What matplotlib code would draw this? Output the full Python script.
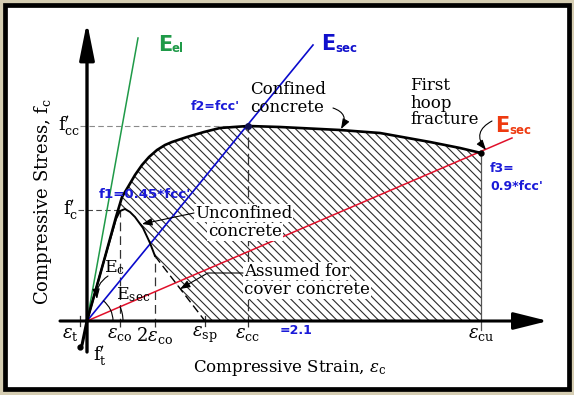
import matplotlib
matplotlib.use('Agg')
import matplotlib.pyplot as plt
from matplotlib.patches import Polygon, Rectangle, Arc
import matplotlib.transforms as mtransforms

plt.rcParams['mathtext.fontset'] = 'dejavuserif'
plt.rcParams['hatch.linewidth'] = 0.8

# ---------------- data (diagram units: strain -> right, stress -> up) ----------
conf_strain = [0, 18, 29, 35, 41, 48, 55, 62, 70, 78, 85, 100, 117, 133, 161, 193, 253, 293, 343, 373, 394]
conf_stress = [0, 64, 104, 124, 134, 146, 156, 164, 171, 176, 179, 184, 189, 193, 195, 194, 191, 188, 179, 173, 168]
unconf_strain = [0, 18, 25, 29, 33, 38, 43, 48, 56, 63, 68]
unconf_stress = [0, 64, 88, 102, 110, 112, 109, 104, 93, 78, 65]
cover_strain = [68, 118]
cover_stress = [65, 0]
tension_strain = [0, -5, -7]
tension_stress = [0, -24, -26]

eps_t, eps_co, eps_2co, eps_sp, eps_cc, eps_cu = -7, 33, 68, 118, 161, 394
f_cc, f_c, f_3 = 195, 111, 168

E_el_end = (51, 283)
E_sec_blue_end = (226, 276)
E_sec_red_end = (425, 183)

x_labels = ['$\\varepsilon_{\\mathrm{co}}$', '$2\\varepsilon_{\\mathrm{co}}$',
            '$\\varepsilon_{\\mathrm{sp}}$', '$\\varepsilon_{\\mathrm{cc}}$',
            '$\\varepsilon_{\\mathrm{cu}}$']
x_label_pos = [eps_co, eps_2co, eps_sp, eps_cc, eps_cu]

# ---------------- figure ----------------
W, H = 574, 395
fig = plt.figure(figsize=(W / 100, H / 100), dpi=100)
fig.patch.set_facecolor('#d5cdb2')
ax = fig.add_axes([0, 0, 1, 1])
ax.set_xlim(-87, 487)
ax.set_ylim(-74, 321)
ax.axis('off')
ax.patch.set_visible(False)

PX = mtransforms.Affine2D().scale(1 / W, -1 / H).translate(0, 1) + fig.transFigure

# frame
ax.add_patch(Rectangle((4.5, 5), 564, 383.5, transform=PX, fc='white', ec='black',
                       lw=3.4, zorder=0))

SERIF = 'DejaVu Serif'
BLUE_T = '#1a1ad8'

# hatch region (confined minus unconfined)
poly = list(zip(conf_strain[2:], conf_stress[2:]))
poly += [(eps_cu, 0), (cover_strain[1], 0)]
poly += list(zip(unconf_strain[::-1][:8], unconf_stress[::-1][:8]))
ax.add_patch(Polygon(poly, closed=True, fill=False, hatch='\\\\\\\\', edgecolor='#2a2a2a',
                     lw=0, zorder=1))

# reference dashed lines
ax.plot([-7, eps_cc], [f_cc, f_cc], color='#8a8a8a', lw=0.8, ls=(0, (5, 3)), zorder=2)
ax.plot([-9, eps_co], [f_c, f_c], color='#444444', lw=0.8, ls=(0, (5, 3)), zorder=2)
ax.plot([eps_co, eps_co], [-6, f_c], color='#333333', lw=0.9, ls=(0, (7, 4)), zorder=2)
ax.plot([eps_2co, eps_2co], [-6, 63], color='#333333', lw=0.9, ls=(0, (7, 4)), zorder=2)
ax.plot([eps_cc, eps_cc], [-6, f_cc], color='#333333', lw=0.9, ls=(0, (9, 4)), zorder=2)
ax.plot([eps_cu, eps_cu], [-9, f_3], color='#555555', lw=0.9, zorder=2)
ax.plot([eps_t, eps_t], [-5, 5], color='#333333', lw=0.9, zorder=2)
ax.plot([eps_sp, eps_sp], [-5, 5], color='#333333', lw=0.9, zorder=2)

# curves
ax.plot(conf_strain, conf_stress, color='black', lw=1.9, zorder=4, solid_capstyle='round',
        solid_joinstyle='round')
ax.plot(unconf_strain, unconf_stress, color='black', lw=1.4, zorder=4, solid_joinstyle='round')
ax.plot(cover_strain, cover_stress, color='black', lw=1.0, ls=(0, (6, 3)), zorder=4)
ax.plot(tension_strain, tension_stress, color='black', lw=2.2, zorder=4)
ax.plot([tension_strain[-1]], [tension_stress[-1]], 'o', color='black', ms=3.5, zorder=5)

# secant lines
ax.plot([0, E_el_end[0]], [0, E_el_end[1]], color='#1f9a48', lw=1.1, zorder=3)
ax.plot([0, E_sec_blue_end[0]], [0, E_sec_blue_end[1]], color='#0a0acc', lw=1.2, zorder=3)
ax.plot([0, E_sec_red_end[0]], [0, E_sec_red_end[1]], color='#e0102a', lw=1.1, zorder=3)
ax.plot([eps_cc], [f_cc], 'o', color='#101050', ms=4, zorder=6)
ax.plot([eps_cu], [f_3], 'o', color='black', ms=3.5, zorder=6)

# angle arcs
ax.add_patch(Arc((0, 0), 52, 52, theta1=0, theta2=52, color='black', lw=0.8, zorder=4))
ax.add_patch(Arc((0, 0), 72, 72, theta1=0, theta2=24, color='black', lw=0.8, zorder=4))

# axes
ax.annotate('', xy=(461, 0), xytext=(-27, 0),
            arrowprops=dict(arrowstyle='-|>,head_length=1.4,head_width=0.35', mutation_scale=15,
                            lw=2.2, color='black', shrinkA=0, shrinkB=0), zorder=5)
ax.annotate('', xy=(0, 299), xytext=(0, -31),
            arrowprops=dict(arrowstyle='-|>,head_length=1.5,head_width=0.3', mutation_scale=15,
                            lw=2.4, color='black', shrinkA=0, shrinkB=0), zorder=5)

# tick labels along axes
for lab, xv in zip(x_labels, x_label_pos):
    ax.text(xv, -4, lab, ha='center', va='top', fontsize=13, family=SERIF, zorder=6)
ax.text(eps_t - 1, -4, '$\\varepsilon_{\\mathrm{t}}$', ha='right', va='top', fontsize=13,
        family=SERIF, zorder=6)
ax.text(-7, f_cc, "$\\mathrm{f}^{\\prime}_{\\mathrm{cc}}$", ha='right', va='center', fontsize=13,
        zorder=6)
ax.text(-9, f_c, "$\\mathrm{f}^{\\prime}_{\\mathrm{c}}$", ha='right', va='center', fontsize=13,
        zorder=6)
ax.text(6, -23, "$\\mathrm{f}^{\\prime}_{\\mathrm{t}}$", ha='left', va='top', fontsize=13, zorder=6)


def T(x, y, s, **kw):
    kw.setdefault('zorder', 7)
    return ax.text(x, y, s, transform=PX, **kw)


# axis titles
T(43, 201, "Compressive Stress, $\\mathrm{f}_{\\mathrm{c}}$", rotation=90, ha='center',
  va='center', fontsize=13, family=SERIF)
T(290, 368, "Compressive Strain, $\\varepsilon_{\\mathrm{c}}$", ha='center', va='center',
  fontsize=12, family=SERIF)

# E labels
T(158, 45, 'E', color='#1f9a48', fontsize=15, fontweight='bold', va='center', ha='left')
T(172, 49, 'el', color='#1f9a48', fontsize=8.5, fontweight='bold', va='center', ha='left')
T(321, 44, 'E', color='#1010cc', fontsize=15, fontweight='bold', va='center', ha='left')
T(335, 48, 'sec', color='#1010cc', fontsize=8.5, fontweight='bold', va='center', ha='left')
T(495, 126, 'E', color='#ee3a10', fontsize=15, fontweight='bold', va='center', ha='left')
T(509, 130, 'sec', color='#ee3a10', fontsize=8.5, fontweight='bold', va='center', ha='left')

# blue value annotations
T(191, 106, "f2=fcc'", color=BLUE_T, fontsize=9, fontweight='bold', va='center')
T(99, 194, "f1=0.45*fcc'", color=BLUE_T, fontsize=9.6, fontweight='bold', va='center')
T(490, 168, "f3=", color=BLUE_T, fontsize=9, fontweight='bold', va='center')
T(490, 186, "0.9*fcc'", color=BLUE_T, fontsize=9, fontweight='bold', va='center')
T(280, 330, "=2.1", color=BLUE_T, fontsize=9, fontweight='bold', va='center')

# descriptive labels
bb = dict(facecolor='white', edgecolor='none', pad=0.5)
FS = 12
T(250, 89, 'Confined', fontsize=FS, family=SERIF, va='center')
T(250, 107, 'concrete', fontsize=FS, family=SERIF, va='center')
T(410, 85, 'First', fontsize=FS, family=SERIF, va='center')
T(410, 103, 'hoop', fontsize=FS, family=SERIF, va='center')
T(410, 120, 'fracture', fontsize=FS, family=SERIF, va='center')
T(195, 213, 'Unconfined', fontsize=FS, family=SERIF, va='center', bbox=bb)
T(208, 232, 'concrete', fontsize=FS, family=SERIF, va='center', bbox=bb)
T(244, 271, 'Assumed for', fontsize=FS, family=SERIF, va='center', bbox=bb)
T(244, 290, 'cover concrete', fontsize=FS, family=SERIF, va='center', bbox=bb)
T(104, 268, '$\\mathrm{E}_{\\mathrm{c}}$', fontsize=12.5, va='center')
T(116, 295, '$\\mathrm{E}_{\\mathrm{sec}}$', fontsize=12.5, va='center')

# leader arrows
ap = dict(arrowstyle='-|>,head_length=0.6,head_width=0.22', color='black', lw=0.8,
          mutation_scale=10, shrinkA=0, shrinkB=0)
ax.annotate('', xy=(341, 129), xytext=(333, 108), xycoords=PX, textcoords=PX,
            arrowprops=dict(ap, connectionstyle='arc3,rad=-0.6'), zorder=7)
ax.annotate('', xy=(486, 150), xytext=(492, 121), xycoords=PX, textcoords=PX,
            arrowprops=dict(ap, connectionstyle='arc3,rad=0.6'), zorder=7)
ax.annotate('', xy=(142, 224), xytext=(194, 213), xycoords=PX, textcoords=PX,
            arrowprops=ap, zorder=7)
ax.annotate('', xy=(180, 289), xytext=(243, 273), xycoords=PX, textcoords=PX,
            arrowprops=dict(ap, connectionstyle='angle,angleA=180,angleB=30,rad=0'), zorder=7)
ax.annotate('', xy=(97, 299), xytext=(108, 276), xycoords=PX, textcoords=PX,
            arrowprops=dict(ap, connectionstyle='arc3,rad=0.3'), zorder=7)

fig.savefig('out.png', dpi=100, facecolor=fig.get_facecolor())
